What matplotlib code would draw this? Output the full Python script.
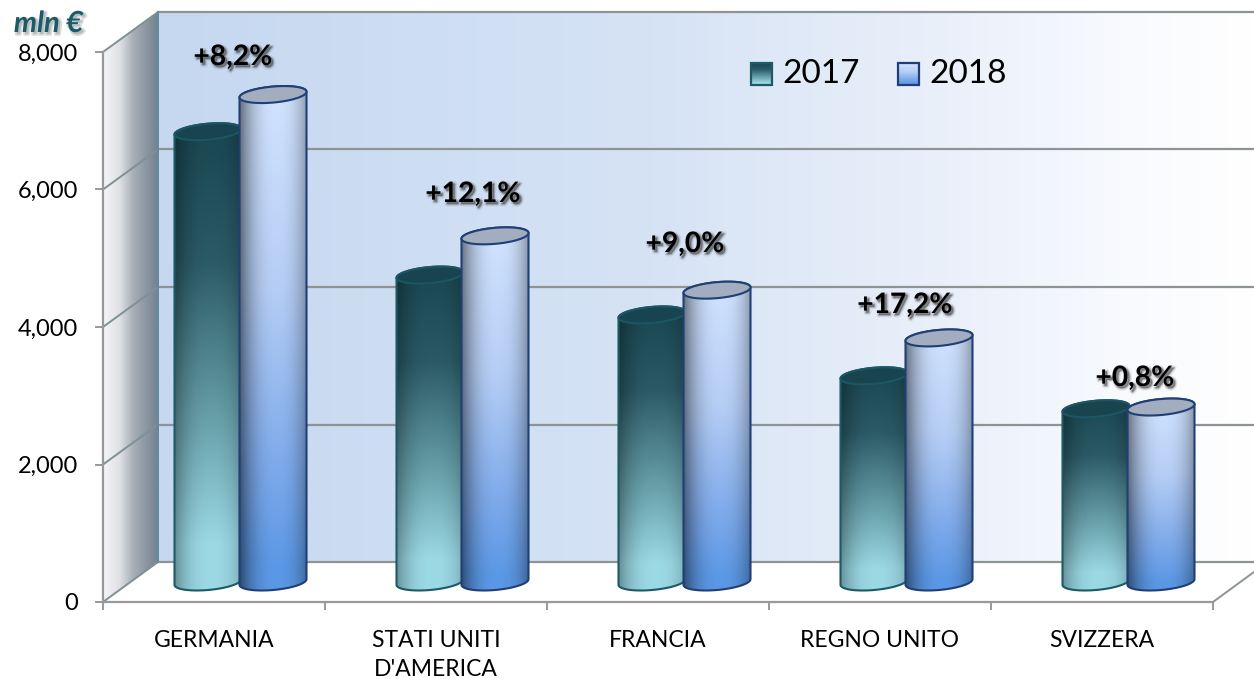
import numpy as np
import matplotlib
matplotlib.use("Agg")
import matplotlib.pyplot as plt
from matplotlib.colors import to_rgb
from matplotlib.patches import Polygon
import matplotlib.patheffects as pe

plt.rcParams['font.family'] = ['Lato', 'DejaVu Sans']

# data
categories = ["GERMANIA", "STATI UNITI\nD'AMERICA", "FRANCIA", "REGNO UNITO", "SVIZZERA"]
values_2017 = [6550, 4465, 3885, 3000, 2520]
values_2018 = [7090, 5035, 4245, 3550, 2545]
growth_labels = ["+8,2%", "+12,1%", "+9,0%", "+17,2%", "+0,8%"]
y_ticks = [0, 2000, 4000, 6000, 8000]

W, H = 1254, 679
X0, CAT_W = 103, 222     # pixel of x=0, pixels per category
Y0, PX_Y = 602, 550 / 8000   # pixel of y=0, pixels per unit


def px(x):
    return (x - X0) / CAT_W


def py(y):
    return (Y0 - y) / PX_Y


# size of the 3d depth, in data units
DEPTH_X = 55 / CAT_W
DEPTH_Y = 40 / PX_Y
XMAX = px(W)

fig = plt.figure(figsize=(W / 100, H / 100), dpi=100)
ax = fig.add_axes([0, 0, 1, 1])
ax.patch.set_alpha(0)


def gradient_image(stops, horizontal=True):
    # stops is a list of (position, colour)
    pos = [s[0] for s in stops]
    rgb = np.array([to_rgb(s[1]) for s in stops])
    u = np.linspace(0, 1, 256)
    arr = np.stack([np.interp(u, pos, rgb[:, k]) for k in range(3)], axis=-1)
    return arr[None, :, :] if horizontal else arr[:, None, :]


def clipped_image(img, extent, outline, zorder):
    patch = Polygon(outline, closed=True, fc='none', ec='none', zorder=zorder)
    ax.add_patch(patch)
    im = ax.imshow(img, extent=extent, aspect='auto', origin='upper',
                   interpolation='bilinear', zorder=zorder)
    im.set_clip_path(patch)


# back wall
clipped_image(
    gradient_image([(0, '#c5d8f0'), (0.45, '#d6e3f5'), (0.72, '#eaf0fa'), (0.88, '#f8fafe'), (1, '#ffffff')]),
    [px(158), XMAX, 0 + DEPTH_Y, 8000 + DEPTH_Y],
    [(px(158), DEPTH_Y), (XMAX, DEPTH_Y), (XMAX, 8000 + DEPTH_Y), (px(158), 8000 + DEPTH_Y)], 1)

# side wall
clipped_image(
    gradient_image([(0, '#f6f6f8'), (0.3, '#dfe1e5'), (0.55, '#a9afb8'), (0.8, '#8a95a0'), (1, '#738290')]),
    [0, DEPTH_X, 0, 8000 + DEPTH_Y],
    [(0, 0), (DEPTH_X, DEPTH_Y), (DEPTH_X, 8000 + DEPTH_Y), (0, 8000)], 1)

# grid lines, on the wall and along the side
for t in y_ticks:
    col = '#8e9494'
    ax.plot([DEPTH_X, XMAX], [t + DEPTH_Y, t + DEPTH_Y], color=col, lw=1.6, zorder=2)
    ax.plot([0, DEPTH_X], [t, t + DEPTH_Y], color='#7f9096', lw=1.4, zorder=2)
ax.plot([DEPTH_X, DEPTH_X], [DEPTH_Y, 8000 + DEPTH_Y], color='#5f8c9c', lw=1.4, zorder=2)
ax.plot([5, 5 + 41 / CAT_W], [0, 30 / PX_Y], color='#8e9494', lw=1.4, zorder=2)


def cylinder(cx, value, stops, shade_lo, shade_hi, edge, top_face, top_edge, zorder):
    a = 33.5 / CAT_W
    b = 8 / PX_Y
    tilt = 0.085 * CAT_W / PX_Y
    base = DEPTH_Y / 2
    top = value + base
    t = np.linspace(np.pi, 2 * np.pi, 60)
    lower = np.c_[cx + a * np.cos(t), base + b * np.sin(t) + tilt * a * np.cos(t)]
    t = np.linspace(0, np.pi, 60)
    upper = np.c_[cx + a * np.cos(t), top + b * np.sin(t) + tilt * a * np.cos(t)]
    outline = np.vstack([lower, upper])

    # vertical colour gradient darkened towards both sides
    col = gradient_image(stops, horizontal=False)
    u = np.linspace(0, 1, 128)
    side = np.abs(u - 0.55) / 0.55
    edge_shade = shade_hi + (shade_lo - shade_hi) * side[None, :] ** 2.4
    img = np.clip(col * edge_shade[:, :, None] * np.ones((256, 128, 1)), 0, 1)
    y_lo = base - 1.3 * b
    y_hi = top + 1.3 * b
    clipped_image(img, [cx - a, cx + a, y_lo, y_hi], outline, zorder)
    ax.add_patch(Polygon(outline, closed=True, fc='none', ec=edge, lw=1.5, zorder=zorder + 0.1))

    t = np.linspace(0, 2 * np.pi, 120)
    ring = np.c_[cx + a * np.cos(t), top + b * np.sin(t) + tilt * a * np.cos(t)]
    ax.add_patch(Polygon(ring, closed=True, fc=top_face, ec=top_edge, lw=1.5, zorder=zorder + 0.2))


stops_2017 = [(0, '#18454f'), (0.3, '#2b5b67'), (0.65, '#6ba3ad'), (0.9, '#9bd9e5'), (1, '#9bd9e5')]
stops_2018 = [(0, '#d2e4ff'), (0.4, '#b6cef5'), (0.75, '#7eaaea'), (0.95, '#5b98e5'), (1, '#5b98e5')]

for i in range(len(categories)):
    c = i + 0.5 + 26 / CAT_W
    cylinder(c - 32 / CAT_W, values_2017[i], stops_2017, 0.66, 1.0, '#1d5a68', '#17444f', '#1c5663', 3 + i)
    cylinder(c + 33 / CAT_W, values_2018[i], stops_2018, 0.5, 1.0, '#1f3f75', '#a3adc0', '#1f3f75', 3.5 + i)

# growth labels
label_px = [(233, 57), (473, 194), (685, 244), (905, 305), (1135, 378)]
shadow = [pe.Stroke(offset=(1.5, -1.5), linewidth=3.5, foreground='#555555', alpha=0.12),
          pe.Stroke(offset=(1.5, -1.5), linewidth=1.5, foreground='#444444', alpha=0.3),
          pe.Normal()]
for txt, (lx, ly) in zip(growth_labels, label_px):
    ax.text(px(lx), py(ly), txt, fontsize=20.3, fontweight='bold', color='black',
            ha='center', va='center', zorder=20, path_effects=shadow)

# unit
ax.text(px(83), py(24), "mln €", fontsize=21, fontweight='bold', fontstyle='italic',
        color='#1d5a68', ha='right', va='center', zorder=20,
        path_effects=[pe.Stroke(offset=(1.5, -1.5), linewidth=2.5, foreground='#777777', alpha=0.25), pe.Normal()])

# legend
legend_items = [("2017", stops_2017, '#1d5a68', 751), ("2018", stops_2018, '#1f3f75', 898)]
for name, stops, edge, lx in legend_items:
    sq = [(px(lx), py(63)), (px(lx + 21), py(63)), (px(lx + 21), py(85)), (px(lx), py(85))]
    clipped_image(gradient_image(stops, horizontal=False), [px(lx), px(lx + 21), py(85), py(63)], sq, 20)
    ax.add_patch(Polygon(sq, closed=True, fc='none', ec=edge, lw=1.6, zorder=21))
    ax.text(px(lx + 31), py(74), name, fontsize=24, color='black', ha='left', va='center', zorder=21)

# axes with the real ticks, placed on the front edge
for s in ['top', 'right']:
    ax.spines[s].set_visible(False)
ax.spines['left'].set_position(('data', 0))
ax.spines['left'].set_bounds(0, 8000)
ax.spines['bottom'].set_position(('data', 0))
ax.spines['bottom'].set_bounds(0, 5)
for s in ['left', 'bottom']:
    ax.spines[s].set_color('#999999')
    ax.spines[s].set_linewidth(1.6)
    ax.spines[s].set_zorder(2)
ax.set_yticks(y_ticks)
ax.set_yticklabels([f"{v:,}" for v in y_ticks], fontsize=17)
ax.tick_params(axis='y', length=6, width=1.4, color='#999999', pad=12)
ax.set_xticks(range(6))
ax.set_xticklabels([])
ax.set_xticks([i + 0.5 for i in range(5)], minor=True)
ax.set_xticklabels(categories, minor=True, fontsize=16.5, linespacing=1.5)
ax.tick_params(axis='x', which='major', length=6, width=1.4, color='#999999')
ax.tick_params(axis='x', which='minor', length=0, pad=20)

ax.set_xlim(px(0), XMAX)
ax.set_ylim(py(H), py(0))

fig.savefig("out.png", dpi=100)
